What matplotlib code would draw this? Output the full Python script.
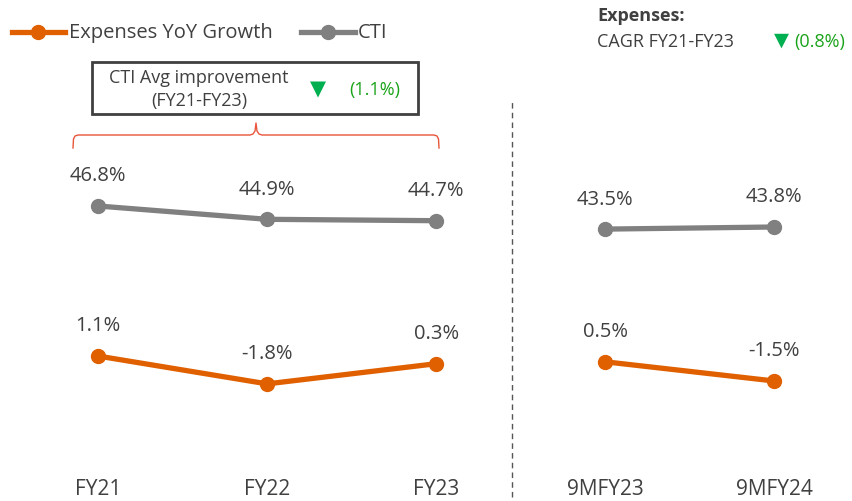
import numpy as np
import matplotlib.pyplot as plt
from matplotlib.lines import Line2D
from matplotlib.patches import Rectangle

plt.rcParams['font.family'] = ['Open Sans', 'DejaVu Sans']

periods = ["FY21", "FY22", "FY23", "9MFY23", "9MFY24"]
cti = [46.8, 44.9, 44.7, 43.5, 43.8]
expenses_growth = [1.1, -1.8, 0.3, 0.5, -1.5]
groups = [[0, 1, 2], [3, 4]]

ORANGE = "#E06000"
GRAY = "#808080"
TEXT = "#404040"
GREEN = "#00B050"
GREEN_TXT = "#1AA31A"
BRACE = "#E8553A"

W, H = 852, 502
fig = plt.figure(figsize=(W / 100, H / 100), dpi=100)


def fx(px):
    return px / W


def fy(py):
    return 1 - py / H


ax_cti = fig.add_axes([0, 0, 1, 1])
ax_exp = fig.add_axes([0, 0, 1, 1], sharex=ax_cti)
for a in (ax_cti, ax_exp):
    a.set_axis_off()
    a.patch.set_alpha(0)

x = np.arange(len(periods))
ax_cti.set_xlim(-0.58, 4.46)
ax_cti.set_ylim(4.66, 76.37)
ax_exp.set_ylim(-14.0, 38.29)

for g in groups:
    ax_cti.plot(x[g], [cti[i] for i in g], color=GRAY, lw=3.8, marker="o", ms=10,
                solid_capstyle="round")
    ax_exp.plot(x[g], [expenses_growth[i] for i in g], color=ORANGE, lw=3.8, marker="o", ms=10,
                solid_capstyle="round")

for i in x:
    ax_cti.annotate(f"{cti[i]:.1f}%", (i, cti[i]), xytext=(0, 22), textcoords="offset points",
                    ha="center", va="center", fontsize=14.5, color=TEXT)
    ax_exp.annotate(f"{expenses_growth[i]:.1f}%", (i, expenses_growth[i]), xytext=(0, 22),
                    textcoords="offset points", ha="center", va="center", fontsize=14.5, color=TEXT)
    ax_cti.text(i, fy(490), periods[i], transform=ax_cti.get_xaxis_transform(),
                ha="center", va="center", fontsize=15, color=TEXT)

# separator between full years and 9M
ax_cti.axvline(2.45, ymin=fy(498), ymax=fy(100), color="#555555", lw=1, ls=(0, (4, 3)))

# legend
fig.add_artist(Line2D([fx(12), fx(65)], [fy(33), fy(33)], color=ORANGE, lw=3.8))
fig.add_artist(Line2D([fx(38)], [fy(33)], color=ORANGE, marker="o", ms=10))
fig.text(fx(69), fy(33), "Expenses YoY Growth", fontsize=14.5, color=TEXT, va="center")
fig.add_artist(Line2D([fx(301), fx(355)], [fy(33), fy(33)], color=GRAY, lw=3.8))
fig.add_artist(Line2D([fx(328)], [fy(33)], color=GRAY, marker="o", ms=10))
fig.text(fx(358), fy(33), "CTI", fontsize=14.5, color=TEXT, va="center")

# CTI improvement box
fig.add_artist(Rectangle((fx(92), fy(115)), fx(418) - fx(92), fy(63) - fy(115),
                         fill=False, ec="#404040", lw=2, transform=fig.transFigure))
fig.text(fx(199), fy(78), "CTI Avg improvement", fontsize=13, color=TEXT, ha="center", va="center")
fig.text(fx(199), fy(101), "(FY21-FY23)", fontsize=13, color=TEXT, ha="center", va="center")
fig.text(fx(318), fy(89), "\u25BC", fontsize=15, color=GREEN, ha="center", va="center",
         family=["DejaVu Sans"])
fig.text(fx(375), fy(90), "(1.1%)", fontsize=13, color=GREEN_TXT, ha="center", va="center")

# brace over FY21-FY23
bx = [73, 73.5, 75, 78, 250, 253, 255, 256, 257, 259, 262, 434, 437, 438.5, 439]
by = [149, 140, 137, 136, 136, 135, 132, 124, 132, 135, 136, 136, 137, 140, 149]
fig.add_artist(Line2D([fx(v) for v in bx], [fy(v) for v in by], color=BRACE, lw=1))

# expenses CAGR note
fig.text(fx(597), fy(16), "Expenses:", fontsize=13, color=TEXT, weight="bold", va="center")
fig.text(fx(597), fy(42), "CAGR FY21-FY23", fontsize=13, color=TEXT, va="center")
fig.text(fx(781), fy(40), "\u25BC", fontsize=14, color=GREEN, ha="center", va="center",
         family=["DejaVu Sans"])
fig.text(fx(794), fy(42), "(0.8%)", fontsize=13, color=GREEN_TXT, va="center")

fig.savefig("out.png", dpi=100)
